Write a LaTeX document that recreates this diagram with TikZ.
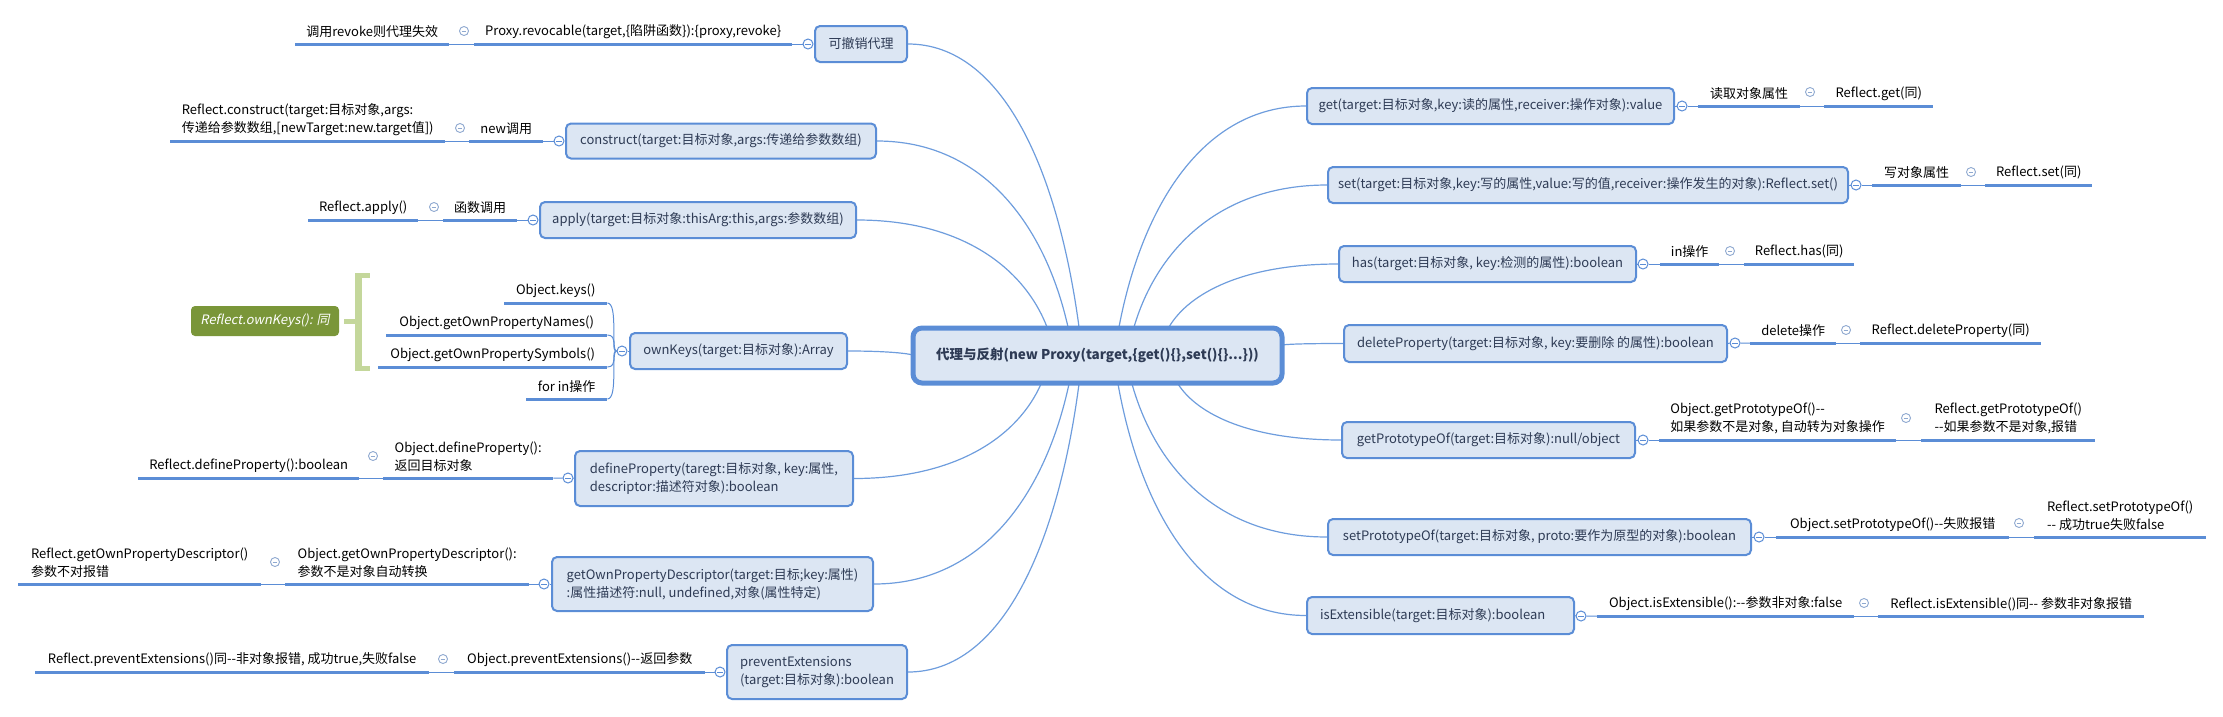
\documentclass[tikz,border=0pt]{standalone}
\usepackage{fontspec}
\setmainfont{Noto Sans CJK SC}
\newfontfamily\slfont{Noto Sans CJK SC}[FakeSlant=0.2]
\usetikzlibrary{backgrounds}
\definecolor{bl}{HTML}{5B8DD6}
\definecolor{bfill}{HTML}{DCE6F3}
\definecolor{cn}{HTML}{6E9DDD}
\definecolor{btxt}{HTML}{2E3B55}
\definecolor{gfill}{HTML}{7A9639}
\definecolor{brkc}{HTML}{C4D79B}
\definecolor{btn}{HTML}{8FA9D0}
\newcommand{\fs}{\fontsize{13}{18}\selectfont}
\newcommand{\dd}{-{}-}
\begin{document}
\begin{tikzpicture}[x=1pt,y=-1pt,
 box/.style={draw=bl, line width=2, fill=bfill, rounded corners=5, text=btxt, font=\fs, inner sep=0, align=center},
 cbox/.style={box, line width=5, rounded corners=9, font=\fontsize{13.5}{18}\selectfont\bfseries},
 gbox/.style={fill=gfill, rounded corners=4, text=white, font=\fs, inner sep=0},
 leaf/.style={inner sep=0, minimum height=24, anchor=south west, text=black, font=\fs, align=center},
 leaftwo/.style={leaf, minimum height=42, align=left},
 uline/.style={draw=bl, line width=3},
 lnk/.style={draw=bl, line width=1},
 conn/.style={draw=cn, line width=1.2},
 brk/.style={draw=brkc, line width=5},
 cbtn/.style={circle, draw=bl, line width=1, fill=white, minimum size=10, inner sep=0,
   path picture={\draw[bl, line width=0.8] ([xshift=-2.6pt]path picture bounding box.center) -- ([xshift=2.6pt]path picture bounding box.center);}},
 sbtn/.style={circle, draw=btn, line width=0.9, fill=white, minimum size=9, inner sep=0,
   path picture={\draw[btn, line width=0.8] ([xshift=-2.3pt]path picture bounding box.center) -- ([xshift=2.3pt]path picture bounding box.center);}}
]
\useasboundingbox (0,0) rectangle (2223,716);

% ---------- central ----------
\node[cbox, minimum width=369, minimum height=55] (ctr) at (1097.5,355.5) {代理与反射(new Proxy(target,\{get()\{\},set()\{\}...\}))};

% ---------- left side ----------
\node[box, minimum width=92, minimum height=36] (revoc) at (861,44) {可撤销代理};
\node[cbtn] (b1) at (808,44) {};
\node[leaf, minimum width=318] (l1a) at (474,44) {Proxy.revocable(target,\{陷阱函数\}):\{proxy,revoke\}};
\node[sbtn] (s1) at (464,31) {};
\node[leaf, minimum width=154] (l1b) at (295,44) {调用revoke则代理失效};

\node[box, minimum width=310, minimum height=35] (cons) at (721,141) {construct(target:目标对象,args:传递给参数数组)};
\node[cbtn] (b2) at (559,141) {};
\node[leaf, minimum width=74] (l2a) at (469,141) {new调用};
\node[sbtn] (s2) at (460,128) {};
\node[leaftwo, minimum width=275] (l2b) at (170,141) {Reflect.construct(target:目标对象,args:\\传递给参数数组,[newTarget:new.target值])};

\node[box, minimum width=316, minimum height=36] (appl) at (698,220) {apply(target:目标对象:thisArg:this,args:参数数组)};
\node[cbtn] (b3) at (533,220) {};
\node[leaf, minimum width=74] (l3a) at (443,220) {函数调用};
\node[sbtn] (s3) at (434,207) {};
\node[leaf, minimum width=110] (l3b) at (308,220) {Reflect.apply()};

\node[box, minimum width=217, minimum height=36] (ownk) at (738.5,351) {ownKeys(target:目标对象):Array};
\node[cbtn] (b4) at (622,351) {};
\node[leaf, minimum width=103] (k1) at (504,303) {Object.keys()};
\node[leaf, minimum width=221] (k2) at (386,335) {Object.getOwnPropertyNames()};
\node[leaf, minimum width=229] (k3) at (378,367) {Object.getOwnPropertySymbols()};
\node[leaf, minimum width=81] (k4) at (526,399) {for in操作};
\node[gbox, minimum width=148, minimum height=30] (rk) at (265,321) {\slfont Reflect.ownKeys(): 同};
\draw[brk, line width=7] (358.5,273) -- (358.5,371);
\draw[brk] (355,275.5) -- (370,275.5);
\draw[brk] (355,368.5) -- (370,368.5);
\draw[brk] (rk.east) ++(5,0) -- (358,321);

\node[box, minimum width=278, minimum height=55, align=left] (defp) at (714,478.5) {defineProperty(taregt:目标对象, key:属性,\\descriptor:描述符对象):boolean};
\node[cbtn] (b5) at (568,478) {};
\node[leaftwo, minimum width=170] (l5a) at (383,478) {Object.defineProperty():\\返回目标对象};
\node[sbtn] (s5) at (373,456) {};
\node[leaf, minimum width=221] (l5b) at (138,478) {Reflect.defineProperty():boolean};

\node[box, minimum width=321, minimum height=54, align=left] (gopd) at (712.5,584) {getOwnPropertyDescriptor(target:目标;key:属性)\\:属性描述符:null, undefined,对象(属性特定)};
\node[cbtn] (b6) at (544,584) {};
\node[leaftwo, minimum width=244] (l6a) at (285,584) {Object.getOwnPropertyDescriptor():\\参数不是对象自动转换};
\node[sbtn] (s6) at (275,562) {};
\node[leaftwo, minimum width=243] (l6b) at (18,584) {Reflect.getOwnPropertyDescriptor()\\参数不对报错};

\node[box, minimum width=180, minimum height=54, align=left] (prev) at (817,672) {preventExtensions\\(target:目标对象):boolean};
\node[cbtn] (b7) at (720,672) {};
\node[leaf, minimum width=251] (l7a) at (454,672) {Object.preventExtensions()\dd 返回参数};
\node[sbtn] (s7) at (443,659) {};
\node[leaf, minimum width=394] (l7b) at (35,672) {Reflect.preventExtensions()同\dd 非对象报错, 成功true,失败false};

% ---------- right side ----------
\node[box, minimum width=367, minimum height=36] (getb) at (1490.5,106) {get(target:目标对象,key:读的属性,receiver:操作对象):value};
\node[cbtn] (b8) at (1682,106) {};
\node[leaf, minimum width=102] (r1a) at (1698,106) {读取对象属性};
\node[sbtn] (s8) at (1810,92) {};
\node[leaf, minimum width=109] (r1b) at (1824,106) {Reflect.get(同)};

\node[box, minimum width=520, minimum height=36] (setb) at (1588,185) {set(target:目标对象,key:写的属性,value:写的值,receiver:操作发生的对象):Reflect.set()};
\node[cbtn] (b9) at (1856,185) {};
\node[leaf, minimum width=89] (r2a) at (1872,185) {写对象属性};
\node[sbtn] (s9) at (1971,172) {};
\node[leaf, minimum width=107] (r2b) at (1985,185) {Reflect.set(同)};

\node[box, minimum width=297, minimum height=36] (hasb) at (1487.5,264) {has(target:目标对象, key:检测的属性):boolean};
\node[cbtn] (b10) at (1643,264) {};
\node[leaf, minimum width=59] (r3a) at (1660,264) {in操作};
\node[sbtn] (s10) at (1730,251) {};
\node[leaf, minimum width=110] (r3b) at (1744,264) {Reflect.has(同)};

\node[box, minimum width=383, minimum height=37] (delp) at (1535.5,343.5) {deleteProperty(target:目标对象, key:要删除 的属性):boolean};
\node[cbtn] (b11) at (1735,343) {};
\node[leaf, minimum width=86] (r4a) at (1750,343) {delete操作};
\node[sbtn] (s11) at (1846,330) {};
\node[leaf, minimum width=181] (r4b) at (1860,343) {Reflect.deleteProperty(同)};

\node[box, minimum width=293, minimum height=36] (getp) at (1488.5,440) {getPrototypeOf(target:目标对象):null/object};
\node[cbtn] (b12) at (1643,440) {};
\node[leaftwo, minimum width=237] (r5a) at (1659,440) {Object.getPrototypeOf()\dd\\如果参数不是对象, 自动转为对象操作};
\node[sbtn] (s12) at (1906,418) {};
\node[leaftwo, minimum width=174] (r5b) at (1921,440) {Reflect.getPrototypeOf()\\\dd 如果参数不是对象,报错};

\node[box, minimum width=423, minimum height=36] (setp) at (1539.5,537) {setPrototypeOf(target:目标对象, proto:要作为原型的对象):boolean};
\node[cbtn] (b13) at (1759,537) {};
\node[leaf, minimum width=233] (r6a) at (1776,537) {Object.setPrototypeOf()\dd 失败报错};
\node[sbtn] (s13) at (2019,523) {};
\node[leaftwo, minimum width=172] (r6b) at (2034,537) {Reflect.setPrototypeOf()\\\dd{} 成功true失败false};

\node[box, minimum height=37, text width=241, inner xsep=13, align=left] (isx) at (1440.5,615.5) {isExtensible(target:目标对象):boolean};
\node[cbtn] (b14) at (1581,616) {};
\node[leaf, minimum width=257] (r7a) at (1597,616) {Object.isExtensible():\dd 参数非对象:false};
\node[sbtn] (s14) at (1864,603) {};
\node[leaf, minimum width=266] (r7b) at (1878,616) {Reflect.isExtensible()同\dd{} 参数非对象报错};

% ---------- underlines ----------
\foreach \n in {l1a,l1b,l2a,l2b,l3a,l3b,k1,k2,k3,k4,l5a,l5b,l6a,l6b,l7a,l7b,r1a,r1b,r2a,r2b,r3a,r3b,r4a,r4b,r5a,r5b,r6a,r6b,r7a,r7b}
  \draw[uline] (\n.south west) -- (\n.south east);

% ---------- connectors ----------
\coordinate (ta) at (1079,327);
\coordinate (tb) at (1068,327);
\coordinate (tc) at (1047,327);
\coordinate (td) at (913,355);
\coordinate (te) at (1041,384);
\coordinate (tf) at (1069,384);
\coordinate (tg) at (1079,384);
\coordinate (th) at (1119,327);
\coordinate (ti) at (1134,327);
\coordinate (tj) at (1169,327);
\coordinate (tk) at (1282,345);
\coordinate (tl) at (1178,384);
\coordinate (tm) at (1132,384);
\coordinate (tn) at (1118,384);
\begin{pgfonlayer}{background}
\draw[conn] (revoc.east) .. controls +(95,0) and +(-21,-156) .. (ta);
\draw[conn] (cons.east) .. controls +(106,0) and +(-23,-102) .. (tb);
\draw[conn] (appl.east) .. controls +(105,0) and +(-23,-59) .. (tc);
\draw[conn] (ownk.east) .. controls +(36,0) and +(-8,-2) .. (td);
\draw[conn] (defp.east) .. controls +(103,0) and +(-23,52) .. (te);
\draw[conn] (gopd.east) .. controls +(108,0) and +(-24,111) .. (tf);
\draw[conn] (prev.east) .. controls +(95,0) and +(-21,159) .. (tg);
\draw[conn] (getb.west) .. controls +(-103,0) and +(23,-121) .. (th);
\draw[conn] (setb.west) .. controls +(-107,0) and +(23,-78) .. (ti);
\draw[conn] (hasb.west) .. controls +(-94,0) and +(20,-34) .. (tj);
\draw[conn] (delp.west) .. controls +(-34,0) and +(7,-1) .. (tk);
\draw[conn] (getp.west) .. controls +(-90,0) and +(20,31) .. (tl);
\draw[conn] (setp.west) .. controls +(-108,0) and +(24,85) .. (tm);
\draw[conn] (isx.west) .. controls +(-104,0) and +(23,128) .. (tn);
% left links
\draw[lnk] (revoc.west) -- (b1) -- (l1a.south east);
\draw[lnk] (l1a.south west) -- (l1b.south east);
\draw[lnk] (cons.west) -- (b2) -- (l2a.south east);
\draw[lnk] (l2a.south west) -- (l2b.south east);
\draw[lnk] (appl.west) -- (b3) -- (l3a.south east);
\draw[lnk] (l3a.south west) -- (l3b.south east);
\draw[lnk] (ownk.west) -- (b4);
\draw[lnk] (k1.south east) .. controls +(11,0) and +(-6,0) .. (b4.west);
\draw[lnk] (k2.south east) .. controls +(11,0) and +(-6,0) .. (b4.west);
\draw[lnk] (k3.south east) .. controls +(11,0) and +(-6,0) .. (b4.west);
\draw[lnk] (k4.south east) .. controls +(11,0) and +(-6,0) .. (b4.west);
\draw[lnk] (defp.west) -- (b5) -- (l5a.south east);
\draw[lnk] (l5a.south west) -- (l5b.south east);
\draw[lnk] (gopd.west) -- (b6) -- (l6a.south east);
\draw[lnk] (l6a.south west) -- (l6b.south east);
\draw[lnk] (prev.west) -- (b7) -- (l7a.south east);
\draw[lnk] (l7a.south west) -- (l7b.south east);
% right links
\draw[lnk] (getb.east) -- (b8) -- (r1a.south west);
\draw[lnk] (r1a.south east) -- (r1b.south west);
\draw[lnk] (setb.east) -- (b9) -- (r2a.south west);
\draw[lnk] (r2a.south east) -- (r2b.south west);
\draw[lnk] (hasb.east) -- (b10) -- (r3a.south west);
\draw[lnk] (r3a.south east) -- (r3b.south west);
\draw[lnk] (delp.east) -- (b11) -- (r4a.south west);
\draw[lnk] (r4a.south east) -- (r4b.south west);
\draw[lnk] (getp.east) -- (b12) -- (r5a.south west);
\draw[lnk] (r5a.south east) -- (r5b.south west);
\draw[lnk] (setp.east) -- (b13) -- (r6a.south west);
\draw[lnk] (r6a.south east) -- (r6b.south west);
\draw[lnk] (isx.east) -- (b14) -- (r7a.south west);
\draw[lnk] (r7a.south east) -- (r7b.south west);
\end{pgfonlayer}
\end{tikzpicture}
\end{document}
